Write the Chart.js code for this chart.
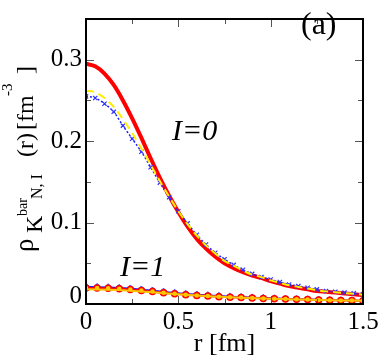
<!DOCTYPE html>
<html>
<head>
<meta charset="utf-8">
<script src="https://cdn.jsdelivr.net/npm/chart.js@4.4.1/dist/chart.umd.min.js"></script>
<style>
  html, body { margin: 0; padding: 0; background: #fff; }
  canvas { display: block; }
</style>
</head>
<body>
<canvas id="densityChart" width="382" height="357"></canvas>
<script>
/* ===============================
   DATA
================================ */
// r grid for the I=0 curves [fm]
const rI0 = [0, 0.05, 0.1, 0.15, 0.2, 0.25, 0.3, 0.35, 0.4, 0.45, 0.5, 0.55, 0.6, 0.65, 0.7, 0.75,
             0.8, 0.85, 0.9, 0.95, 1.0, 1.05, 1.1, 1.15, 1.2, 1.25, 1.3, 1.35, 1.4, 1.45, 1.5];
const redI0 = [0.295, 0.292, 0.283, 0.269, 0.250, 0.228, 0.204, 0.179, 0.155, 0.133, 0.113, 0.095,
               0.080, 0.068, 0.058, 0.050, 0.044, 0.039, 0.035, 0.032, 0.028, 0.025, 0.022, 0.020,
               0.018, 0.016, 0.015, 0.014, 0.013, 0.012, 0.011];
const blueI0 = [0.255, 0.253, 0.246, 0.236, 0.219, 0.203, 0.187, 0.168, 0.149, 0.131, 0.114, 0.099,
                0.085, 0.073, 0.063, 0.055, 0.048, 0.042, 0.037, 0.033, 0.030, 0.027, 0.024, 0.022,
                0.020, 0.018, 0.016, 0.015, 0.014, 0.013, 0.012];
const yellowI0 = [0.262, 0.260, 0.253, 0.242, 0.227, 0.210, 0.191, 0.171, 0.151, 0.132, 0.114, 0.098,
                  0.084, 0.072, 0.062, 0.053, 0.047, 0.041, 0.036, 0.033, 0.029, 0.026, 0.023, 0.021,
                  0.019, 0.017, 0.0155, 0.0145, 0.0135, 0.0125, 0.0115];

// r grid for the I=1 curves [fm]
const rI1 = [0, 0.06, 0.12, 0.18, 0.24, 0.3, 0.36, 0.42, 0.48, 0.54, 0.6, 0.66, 0.72, 0.78, 0.84,
             0.9, 0.96, 1.02, 1.08, 1.14, 1.2, 1.26, 1.32, 1.38, 1.44, 1.5];
const blueI1 = [0.0212, 0.0210, 0.0206, 0.0200, 0.0191, 0.0179, 0.0166, 0.0152, 0.0139, 0.0127, 0.0117,
                0.0108, 0.0100, 0.0093, 0.0087, 0.0081, 0.0076, 0.0071, 0.0066, 0.0062, 0.0058, 0.0054,
                0.0050, 0.0047, 0.0044, 0.0041];
const redI1 = [0.0198, 0.0196, 0.0192, 0.0186, 0.0177, 0.0165, 0.0152, 0.0138, 0.0125, 0.0114, 0.0105,
               0.0097, 0.0090, 0.0084, 0.0079, 0.0074, 0.0069, 0.0065, 0.0061, 0.0057, 0.0054, 0.0050,
               0.0047, 0.0044, 0.0042, 0.0040];
const yellowI1 = [0.0180, 0.0179, 0.0176, 0.0171, 0.0164, 0.0155, 0.0145, 0.0134, 0.0123, 0.0113, 0.0104,
                  0.0096, 0.0089, 0.0083, 0.0078, 0.0073, 0.0068, 0.0064, 0.0060, 0.0056, 0.0053, 0.0050,
                  0.0047, 0.0044, 0.0042, 0.0040];

// axis ticks
const xTicks = [0, 0.5, 1, 1.5];
const xTickLabels = ["0", "0.5", "1", "1.5"];
const xMinorTicks = [0.25, 0.75, 1.25];
const yTicks = [0, 0.1, 0.2, 0.3];
const yTickLabels = ["0", "0.1", "0.2", "0.3"];
const yMinorTicks = [0.05, 0.15, 0.25];

const SERIF = "'Liberation Serif', 'Times New Roman', serif";

function pts(xs, ys) {
  return xs.map((x, i) => ({ x: x, y: ys[i] }));
}

/* ===============================
   FRAME, TICKS AND TEXT PLUGIN
================================ */
const framePlugin = {
  id: "frame",
  afterDraw(c) {
    const ctx = c.ctx;
    const a = c.chartArea;
    const xs = c.scales.x, ys = c.scales.y;
    ctx.save();

    // inward ticks on all four sides
    ctx.strokeStyle = "#555";
    ctx.lineWidth = 1;
    ctx.beginPath();
    const tickX = (v, len) => {
      const px = Math.round(xs.getPixelForValue(v)) + 0.5;
      ctx.moveTo(px, a.bottom); ctx.lineTo(px, a.bottom - len);
      ctx.moveTo(px, a.top); ctx.lineTo(px, a.top + len);
    };
    const tickY = (v, len) => {
      const py = Math.round(ys.getPixelForValue(v)) + 0.5;
      ctx.moveTo(a.left, py); ctx.lineTo(a.left + len, py);
      ctx.moveTo(a.right, py); ctx.lineTo(a.right - len, py);
    };
    xTicks.forEach(v => tickX(v, 8));
    xMinorTicks.forEach(v => tickX(v, 5));
    yTicks.forEach(v => tickY(v, 8));
    yMinorTicks.forEach(v => tickY(v, 5));
    ctx.stroke();

    // plot frame
    ctx.strokeStyle = "#000";
    ctx.lineWidth = 2;
    ctx.strokeRect(a.left, a.top, a.right - a.left, a.bottom - a.top);

    ctx.fillStyle = "#000";
    ctx.textBaseline = "alphabetic";

    // y "0" label sits a little above the axis, as in the original
    ctx.textAlign = "right";
    ctx.font = "25px " + SERIF;
    ctx.fillText(yTickLabels[0], a.left - 4, ys.getPixelForValue(0) - 1);

    // curve labels
    ctx.textAlign = "left";
    ctx.font = "italic 30px " + SERIF;
    ctx.fillText("I=0", 172, 140);
    ctx.fillText("I=1", 120, 276);
    ctx.font = "32px " + SERIF;
    ctx.fillText("(a)", 301, 34);

    // y-axis title: rho_{K^bar N, I} (r) [fm^-3]
    ctx.translate(33, 252);
    ctx.rotate(-Math.PI / 2);
    const pieces = [
      { t: "\u03c1", x: 0, dy: 0, size: 27 },
      { t: "K", x: 19, dy: 9, size: 24 },
      { t: "bar", x: 36, dy: -6, size: 14 },
      { t: "N, I", x: 53, dy: 9, size: 16 },
      { t: "(r)", x: 95, dy: 0, size: 24 },
      { t: "[fm", x: 122, dy: 0, size: 24 },
      { t: "-3", x: 156, dy: -21, size: 15 },
      { t: "]", x: 178, dy: 0, size: 24 }
    ];
    pieces.forEach(p => {
      ctx.font = p.size + "px " + SERIF;
      ctx.fillText(p.t, p.x, p.dy);
    });
    ctx.restore();
  }
};

/* ===============================
   CHART
================================ */
const chart = new Chart(document.getElementById("densityChart"), {
  type: "scatter",
  data: {
    datasets: [
      {
        label: "I=0 red",
        data: pts(rI0, redI0),
        showLine: true,
        borderColor: "#ff0000",
        borderWidth: 4,
        pointRadius: 0,
        cubicInterpolationMode: "monotone",
        order: 6
      },
      {
        label: "I=0 blue",
        data: pts(rI0, blueI0),
        showLine: true,
        borderColor: "#2020ff",
        borderWidth: 1.5,
        borderDash: [2, 2],
        pointStyle: "crossRot",
        pointRadius: 3,
        pointBorderColor: "#3030ff",
        pointBorderWidth: 1.2,
        cubicInterpolationMode: "monotone",
        order: 5
      },
      {
        label: "I=0 yellow",
        data: pts(rI0, yellowI0),
        showLine: true,
        borderColor: "#ffee00",
        borderWidth: 2,
        borderDash: [8, 5],
        pointRadius: 0,
        cubicInterpolationMode: "monotone",
        order: 4
      },
      {
        label: "I=1 blue",
        data: pts(rI1, blueI1),
        showLine: true,
        borderColor: "#1010ff",
        borderWidth: 1.5,
        pointStyle: "rectRot",
        pointRadius: 3.5,
        pointBackgroundColor: "#1010ff",
        pointBorderColor: "#6060ff",
        pointBorderWidth: 1,
        cubicInterpolationMode: "monotone",
        order: 3
      },
      {
        label: "I=1 red",
        data: pts(rI1, redI1),
        showLine: true,
        borderColor: "#ff0000",
        borderWidth: 2,
        pointStyle: "circle",
        pointRadius: 3,
        pointBackgroundColor: "#ffcc00",
        pointBorderColor: "#ff0000",
        pointBorderWidth: 1.5,
        cubicInterpolationMode: "monotone",
        order: 2
      },
      {
        label: "I=1 yellow",
        data: pts(rI1, yellowI1),
        showLine: true,
        borderColor: "#f8c400",
        borderWidth: 2,
        pointRadius: 0,
        cubicInterpolationMode: "monotone",
        order: 1
      }
    ]
  },
  options: {
    responsive: false,
    animation: false,
    devicePixelRatio: 1,
    layout: { padding: { top: 2, right: 19, left: 0, bottom: 0 } },
    plugins: {
      legend: { display: false },
      tooltip: { enabled: false }
    },
    scales: {
      x: {
        type: "linear",
        min: 0,
        max: 1.5,
        grid: { display: false, drawTicks: false },
        border: { display: false },
        afterBuildTicks: s => { s.ticks = xTicks.map(v => ({ value: v })); },
        afterFit: s => { s.height = 53; },
        ticks: {
          color: "#000",
          font: { family: SERIF, size: 25 },
          padding: 3,
          maxRotation: 0,
          autoSkip: false,
          callback: (v) => xTickLabels[xTicks.indexOf(v)]
        },
        title: {
          display: true,
          text: "r [fm]",
          color: "#000",
          font: { family: SERIF, size: 26, lineHeight: 1.0 },
          padding: { top: 0, bottom: 0 }
        }
      },
      y: {
        type: "linear",
        min: 0,
        max: 0.35,
        grid: { display: false, drawTicks: false },
        border: { display: false },
        afterBuildTicks: s => { s.ticks = yTicks.map(v => ({ value: v })); },
        afterFit: s => { s.width = 86; },
        ticks: {
          color: "#000",
          font: { family: SERIF, size: 25 },
          padding: 4,
          autoSkip: false,
          // the "0" is drawn by the frame plugin
          callback: (v) => v === 0 ? "" : yTickLabels[yTicks.indexOf(v)]
        }
      }
    }
  },
  plugins: [framePlugin]
});
</script>
</body>
</html>
